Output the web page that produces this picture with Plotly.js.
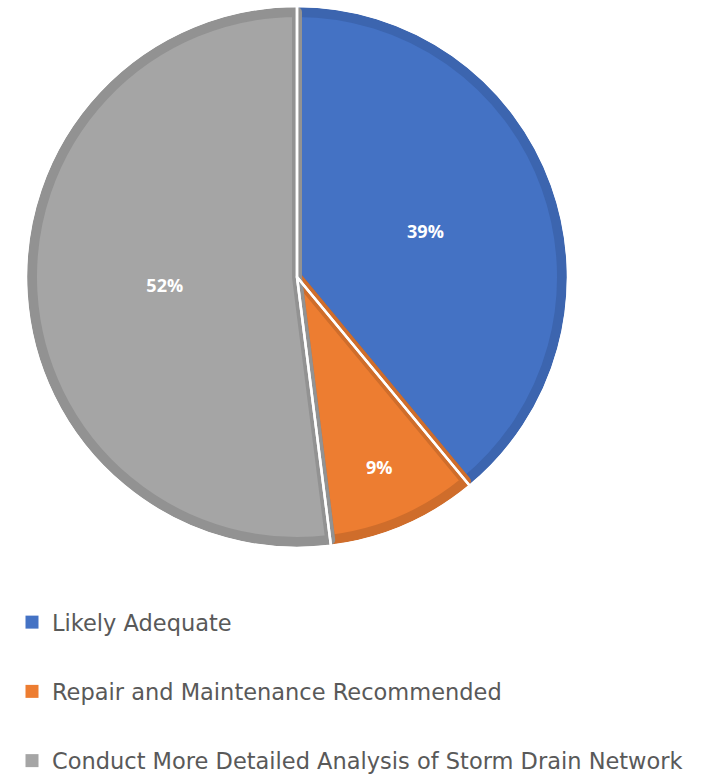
<!DOCTYPE html>
<html>
<head>
<meta charset="utf-8">
<script src="https://cdn.plot.ly/plotly-3.0.1.min.js"></script>
<style>html,body{margin:0;padding:0;background:#fff;}#chart{width:702px;height:777px;}</style>
</head>
<body>
<div id="chart"></div>
<script>
var categories = ["Likely Adequate", "Repair and Maintenance Recommended", "Conduct More Detailed Analysis of Storm Drain Network"];
var shares = [39, 9, 52];
var fillColors = ["#4472C4", "#ED7D31", "#A5A5A5"];
var edgeColors = ["#3C65AF", "#CF6D2B", "#929292"];

var traces = [];
traces.push({
  type: "pie",
  labels: categories,
  values: shares,
  sort: false,
  direction: "clockwise",
  rotation: 0,
  domain: {x: [32 / 702, 562 / 702], y: [1 - 542 / 777, 1 - 12 / 777]},
  marker: {colors: fillColors, line: {color: edgeColors, width: 10}},
  textinfo: "percent",
  texttemplate: "%{percent:.0%}",
  textposition: "inside",
  insidetextorientation: "horizontal",
  textfont: {color: "#ffffff", size: 18, family: "Open Sans", weight: "bold"},
  showlegend: false,
  hoverinfo: "none"
});
traces.push({
  type: "pie",
  labels: categories,
  values: shares,
  sort: false,
  direction: "clockwise",
  rotation: 0,
  domain: {x: [26 / 702, 568 / 702], y: [1 - 548 / 777, 1 - 6 / 777]},
  marker: {colors: ["rgba(0,0,0,0)", "rgba(0,0,0,0)", "rgba(0,0,0,0)"], line: {color: "#ffffff", width: 2.5}},
  textinfo: "none",
  showlegend: false,
  hoverinfo: "none"
});
for (var i = 0; i < categories.length; i++) {
  traces.push({
    type: "scatter",
    x: [null], y: [null],
    mode: "markers",
    name: categories[i],
    legendgroup: "g" + i,
    marker: {symbol: "square", size: 13, color: fillColors[i]},
    showlegend: true,
    hoverinfo: "none"
  });
}

var layout = {
  width: 702, height: 777,
  margin: {l: 0, r: 0, t: 0, b: 0, autoexpand: false},
  paper_bgcolor: "#ffffff",
  plot_bgcolor: "#ffffff",
  xaxis: {visible: false},
  yaxis: {visible: false},
  showlegend: true,
  legend: {
    x: 12 / 702, xanchor: "left",
    y: 1 - 601 / 777, yanchor: "top",
    orientation: "v",
    tracegroupgap: 37,
    font: {family: "DejaVu Sans", size: 22.5, color: "#595959"},
    bgcolor: "rgba(0,0,0,0)",
    itemclick: false, itemdoubleclick: false
  }
};
Plotly.newPlot("chart", traces, layout, {staticPlot: true});
</script>
</body>
</html>
